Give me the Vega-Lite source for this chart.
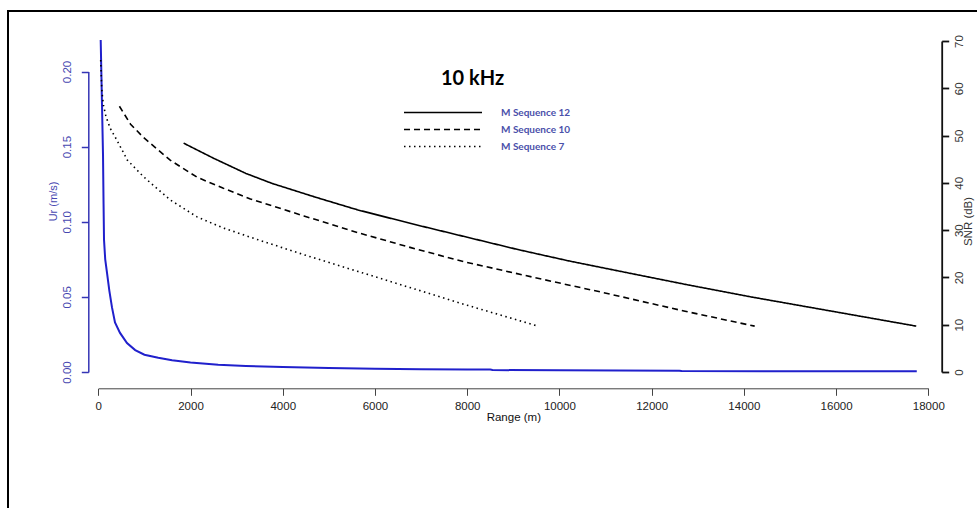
{
  "$schema": "https://vega.github.io/schema/vega-lite/v6.json",
  "width": 969,
  "height": 497,
  "autosize": {"type": "none"},
  "padding": {"left": 8, "top": 11, "right": 0, "bottom": 0},
  "background": "white",
  "config": {
    "view": {"stroke": "black", "strokeWidth": 2, "strokeDash": [969, 1466, 497]},
    "axis": {"grid": false, "labelFont": "Liberation Sans", "titleFont": "Liberation Sans", "labelFontSize": 11.5, "titleFontSize": 11.5, "titleFontWeight": "normal", "tickSize": 7, "labelFlush": false, "labelOverlap": false}
  },
  "title": {"text": "10 kHz", "font": "Lato", "fontSize": 20, "fontWeight": "bold", "color": "black", "anchor": "middle", "frame": "group", "offset": 0, "baseline": "alphabetic", "dx": -20, "dy": 94},
  "datasets": {
    "ur": [
      {"range": 52, "ur": 0.221}, {"range": 80, "ur": 0.178}, {"range": 102, "ur": 0.145}, {"range": 114, "ur": 0.112},
      {"range": 124, "ur": 0.088}, {"range": 150, "ur": 0.075}, {"range": 189, "ur": 0.066}, {"range": 240, "ur": 0.054},
      {"range": 297, "ur": 0.043}, {"range": 362, "ur": 0.033}, {"range": 471, "ur": 0.026}, {"range": 622, "ur": 0.0193},
      {"range": 800, "ur": 0.0146}, {"range": 1000, "ur": 0.0115}, {"range": 1300, "ur": 0.0095}, {"range": 1600, "ur": 0.0078},
      {"range": 2000, "ur": 0.0064}, {"range": 2600, "ur": 0.0048}, {"range": 3200, "ur": 0.004}, {"range": 4000, "ur": 0.0033},
      {"range": 5000, "ur": 0.0026}, {"range": 6000, "ur": 0.0022}, {"range": 7000, "ur": 0.0019}, {"range": 8000, "ur": 0.0017},
      {"range": 8500, "ur": 0.0016}, {"range": 8550, "ur": 0.0013}, {"range": 10000, "ur": 0.0011}, {"range": 12600, "ur": 0.0009},
      {"range": 12650, "ur": 0.0006}, {"range": 15000, "ur": 0.0005}, {"range": 17750, "ur": 0.0005}
    ],
    "snr": [
      {"seq": "M Sequence 12", "range": 1850, "snr": 48.4}, {"seq": "M Sequence 12", "range": 2500, "snr": 45.2},
      {"seq": "M Sequence 12", "range": 3200, "snr": 42.0}, {"seq": "M Sequence 12", "range": 3763, "snr": 39.9},
      {"seq": "M Sequence 12", "range": 4700, "snr": 37.0}, {"seq": "M Sequence 12", "range": 5619, "snr": 34.3},
      {"seq": "M Sequence 12", "range": 6779, "snr": 31.4}, {"seq": "M Sequence 12", "range": 8000, "snr": 28.5},
      {"seq": "M Sequence 12", "range": 9098, "snr": 25.9}, {"seq": "M Sequence 12", "range": 10200, "snr": 23.5},
      {"seq": "M Sequence 12", "range": 11418, "snr": 21.1}, {"seq": "M Sequence 12", "range": 12800, "snr": 18.4},
      {"seq": "M Sequence 12", "range": 14201, "snr": 15.8}, {"seq": "M Sequence 12", "range": 16000, "snr": 12.7},
      {"seq": "M Sequence 12", "range": 17738, "snr": 9.7},
      {"seq": "M Sequence 10", "range": 458, "snr": 56.2}, {"seq": "M Sequence 10", "range": 700, "snr": 52.4},
      {"seq": "M Sequence 10", "range": 980, "snr": 49.6}, {"seq": "M Sequence 10", "range": 1559, "snr": 44.8},
      {"seq": "M Sequence 10", "range": 2141, "snr": 41.2}, {"seq": "M Sequence 10", "range": 2700, "snr": 38.9},
      {"seq": "M Sequence 10", "range": 3298, "snr": 36.6}, {"seq": "M Sequence 10", "range": 4459, "snr": 33.0},
      {"seq": "M Sequence 10", "range": 5619, "snr": 29.5}, {"seq": "M Sequence 10", "range": 6779, "snr": 26.3},
      {"seq": "M Sequence 10", "range": 7937, "snr": 23.3}, {"seq": "M Sequence 10", "range": 9447, "snr": 20.0},
      {"seq": "M Sequence 10", "range": 10950, "snr": 16.8}, {"seq": "M Sequence 10", "range": 12700, "snr": 12.9},
      {"seq": "M Sequence 10", "range": 14235, "snr": 9.7},
      {"seq": "M Sequence 7", "range": 52, "snr": 66.0}, {"seq": "M Sequence 7", "range": 65, "snr": 62.5},
      {"seq": "M Sequence 7", "range": 76, "snr": 59.6}, {"seq": "M Sequence 7", "range": 110, "snr": 56.5},
      {"seq": "M Sequence 7", "range": 167, "snr": 54.0}, {"seq": "M Sequence 7", "range": 260, "snr": 51.5},
      {"seq": "M Sequence 7", "range": 399, "snr": 49.1}, {"seq": "M Sequence 7", "range": 631, "snr": 44.8},
      {"seq": "M Sequence 7", "range": 980, "snr": 41.3}, {"seq": "M Sequence 7", "range": 1559, "snr": 36.4},
      {"seq": "M Sequence 7", "range": 2141, "snr": 32.8}, {"seq": "M Sequence 7", "range": 2700, "snr": 30.5},
      {"seq": "M Sequence 7", "range": 3298, "snr": 28.5}, {"seq": "M Sequence 7", "range": 4459, "snr": 24.8},
      {"seq": "M Sequence 7", "range": 5619, "snr": 21.3}, {"seq": "M Sequence 7", "range": 6779, "snr": 17.8},
      {"seq": "M Sequence 7", "range": 7937, "snr": 14.3}, {"seq": "M Sequence 7", "range": 9538, "snr": 9.7}
    ]
  },
  "layer": [
    {
      "data": {"name": "ur"},
      "mark": {"type": "line", "color": "#2020cc", "strokeWidth": 2},
      "encoding": {
        "x": {
          "field": "range", "type": "quantitative",
          "scale": {"domain": [0, 18000], "range": [90.3, 920.3], "nice": false, "zero": false},
          "axis": {
            "orient": "bottom", "values": [0, 2000, 4000, 6000, 8000, 10000, 12000, 14000, 16000, 18000],
            "format": "d", "title": "Range (m)", "offset": -119.7,
            "domainColor": "#444", "tickColor": "#444", "labelColor": "#222", "titleColor": "#111",
            "labelPadding": 5, "titlePadding": 0
          }
        },
        "y": {
          "field": "ur", "type": "quantitative",
          "scale": {"domain": [0, 0.2], "range": [361, 60.5], "nice": false, "zero": false},
          "axis": {
            "orient": "left", "values": [0, 0.05, 0.1, 0.15, 0.2], "format": ".2f", "title": "Ur (m/s)",
            "offset": -80.3, "domainColor": "#3535b5", "tickColor": "#3535b5", "domainWidth": 1.5, "tickWidth": 1.5,
            "labelColor": "#4646b0", "titleColor": "#4646b0",
            "labelAngle": 270, "labelAlign": "center", "labelBaseline": "bottom", "labelPadding": 8.5,
            "titleAngle": 270, "titleX": -30, "titleY": 190, "titleBaseline": "bottom", "titleAlign": "center", "titleFontSize": 11
          }
        }
      }
    },
    {
      "data": {"name": "snr"},
      "mark": {"type": "line", "color": "black", "strokeWidth": 1.6},
      "encoding": {
        "x": {"field": "range", "type": "quantitative"},
        "y": {
          "field": "snr", "type": "quantitative",
          "scale": {"domain": [0, 70], "range": [361, 30], "nice": false, "zero": false},
          "axis": {
            "orient": "right", "values": [0, 10, 20, 30, 40, 50, 60, 70], "title": "SNR (dB)",
            "offset": -35.3, "domainColor": "#111", "tickColor": "#111", "domainWidth": 1.8, "tickWidth": 1.8,
            "labelColor": "#333", "titleColor": "#333",
            "labelAngle": 270, "labelAlign": "center", "labelBaseline": "top", "labelPadding": 5,
            "titleAngle": 270, "titleX": 21, "titleY": 210, "titleBaseline": "top", "titleAlign": "center"
          }
        },
        "strokeDash": {
          "field": "seq", "type": "nominal",
          "scale": {"domain": ["M Sequence 12", "M Sequence 10", "M Sequence 7"], "range": [[1, 0], [6, 4], [1.5, 3.5]]},
          "legend": {
            "orient": "none", "legendX": 395, "legendY": 94, "title": null,
            "symbolType": "stroke", "symbolSize": 6084, "symbolStrokeColor": "black", "symbolStrokeWidth": 1.5,
            "clipHeight": 15, "rowPadding": 2, "labelOffset": 18, "symbolOffset": 0, "padding": 0,
            "labelFont": "Lato", "labelFontSize": 10, "labelFontWeight": "bold", "labelColor": "#4a50aa"
          }
        }
      }
    }
  ],
  "resolve": {"scale": {"y": "independent", "strokeDash": "independent"}}
}
